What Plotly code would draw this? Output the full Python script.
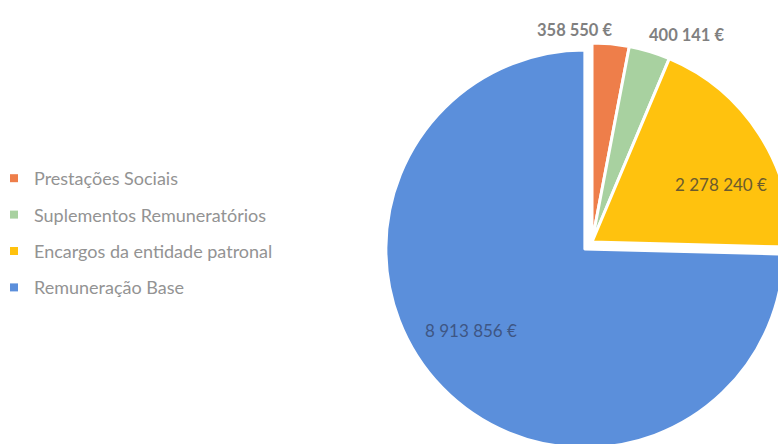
import math
import plotly.graph_objects as go

# Despesas com pessoal, por rubrica
categories = [
    "Prestações Sociais",
    "Suplementos Remuneratórios",
    "Encargos da entidade patronal",
    "Remuneração Base",
]
values = [358550, 400141, 2278240, 8913856]
slice_colors = ["#EE7E4A", "#A8D1A0", "#FFC20E", "#5B8FDB"]
slice_pull = [0, 0, 0, 0.05]

# label styling: radial factor, pixel offsets, font size/weight and colour
label_radius = [1.08, 1.11, 0.68, 0.65]
label_shift = [(-38, 0), (31, 2), (16, 15), (-22, -8)]
label_size = [16.5, 16.5, 17, 17]
label_bold = [True, True, False, False]
label_color = ["#808080", "#808080", "#6B5B2E", "#3E5684"]

W, H = 810, 456
cx, cy, r = 592, 242, 199          # pie centre and radius in pixels
max_pull = max(slice_pull)
half = r * (1 + max_pull)

def fmt(v):
    return f"{v:,}".replace(",", " ") + " €"

fig = go.Figure()
fig.add_trace(go.Pie(
    labels=categories,
    values=values,
    sort=False,
    direction="clockwise",
    rotation=0,
    pull=slice_pull,
    marker=dict(colors=slice_colors, line=dict(color="white", width=3)),
    textinfo="none",
    hoverinfo="label+value+percent",
    showlegend=False,
    domain=dict(
        x=[(cx - half) / W, (cx + half) / W],
        y=[1 - (cy + half) / H, 1 - (cy - half) / H],
    ),
))

# legend entries (one group per category so the rows can be spaced out)
for name, col in zip(categories, slice_colors):
    fig.add_trace(go.Scatter(
        x=[None], y=[None], mode="markers", name=name,
        legendgroup=name,
        marker=dict(symbol="square", size=8, color=col),
    ))

# value labels placed along each slice's mid-angle
total = sum(values)
cum = 0
for i, v in enumerate(values):
    mid = (cum + v / 2) / total * 2 * math.pi
    cum += v
    k = label_radius[i] * 197 + slice_pull[i] * 197
    px = cx + k * math.sin(mid) + label_shift[i][0]
    py = cy - k * math.cos(mid) + label_shift[i][1]
    fig.add_annotation(
        x=px / W, y=1 - py / H, xref="paper", yref="paper",
        xanchor="center", yanchor="middle",
        text=f"<b>{fmt(v)}</b>" if label_bold[i] else fmt(v),
        showarrow=False,
        font=dict(family="Lato, sans-serif", size=label_size[i], color=label_color[i]),
    )

fig.update_layout(
    width=W, height=H,
    margin=dict(l=0, r=0, t=0, b=0, autoexpand=False),
    paper_bgcolor="white", plot_bgcolor="white",
    xaxis=dict(visible=False), yaxis=dict(visible=False),
    legend=dict(
        x=0, y=1 - 160 / H, xanchor="left", yanchor="top",
        indentation=-6,
        font=dict(family="Lato, sans-serif", size=18, color="#939393"),
        tracegroupgap=10,
        itemclick=False, itemdoubleclick=False,
        bgcolor="rgba(0,0,0,0)",
    ),
)

fig.write_html(
    "out.html",
    post_script="document.body.style.margin='0';document.body.style.overflow='hidden';",
)
